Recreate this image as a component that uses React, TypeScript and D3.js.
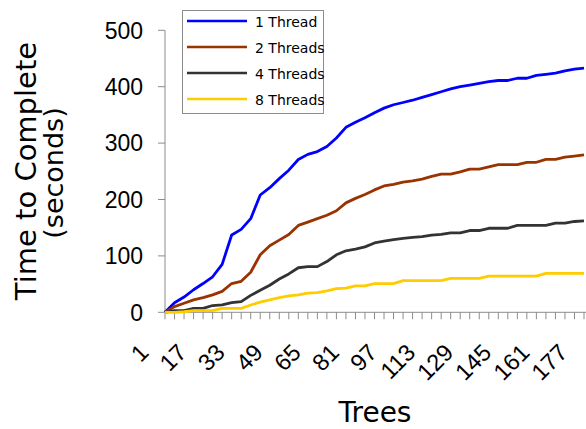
import * as d3 from "d3"

// trees sampled every 4 (matches the tick marks)
const trees = [
  1, 5, 9, 13, 17, 21, 25, 29, 33, 37, 41, 45, 49, 53, 57, 61, 65, 69, 73, 77, 81, 85, 89,
  93, 97, 101, 105, 109, 113, 117, 121, 125, 129, 133, 137, 141, 145, 149, 153, 157, 161,
  165, 169, 173, 177,
]

const thread1 = [
  0, 17, 27, 40, 51, 63, 85, 137, 147, 166, 208, 221, 237, 252, 271, 280, 285, 294, 309, 328,
  337, 345, 354, 362, 368, 372, 376, 381, 386, 391, 396, 400, 403, 406, 409, 411, 411, 415,
  415, 420, 422, 424, 428, 431, 433,
]
const thread2 = [
  0, 10, 16, 22, 26, 31, 37, 51, 55, 71, 102, 118, 128, 138, 154, 160, 166, 172, 180, 194,
  202, 209, 217, 224, 227, 231, 233, 236, 241, 245, 245, 249, 254, 254, 258, 262, 262, 262,
  266, 266, 271, 271, 275, 277, 279,
]
const thread4 = [
  0, 3, 3, 7, 7, 12, 13, 17, 19, 30, 39, 48, 59, 68, 79, 81, 81, 90, 102, 109, 112, 116, 123,
  126, 129, 131, 133, 134, 137, 138, 141, 141, 145, 145, 149, 149, 149, 154, 154, 154, 154,
  158, 158, 161, 162,
]
const thread8 = [
  0, 0, 1, 3, 3, 3, 7, 7, 7, 13, 18, 22, 26, 29, 31, 34, 35, 38, 42, 43, 47, 47, 51, 51, 51,
  56, 56, 56, 56, 56, 60, 60, 60, 60, 64, 64, 64, 64, 64, 64, 69, 69, 69, 69, 69,
]

const seriesNames = ["1 Thread", "2 Threads", "4 Threads", "8 Threads"]
const seriesColors = ["#0000ff", "#993300", "#333333", "#ffcc00"]
const xLabels = [1, 17, 33, 49, 65, 81, 97, 113, 129, 145, 161, 177]
const yTicks = [0, 100, 200, 300, 400, 500]

const W = 586
const H = 429

export default function App() {
  const x = d3.scaleLinear().domain([1, 177]).range([165, 584])
  const y = d3.scaleLinear().domain([0, 500]).range([312.3, 30.3])
  const line = d3
    .line<number>()
    .x((_, i) => x(trees[i]))
    .y((d) => y(d))

  const series = [thread1, thread2, thread4, thread8]
  const axisColor = "#8c8c8c"
  const x0 = x(1)
  const yBase = y(0)

  return (
    <svg
      width={W}
      height={H}
      style={{ position: "absolute", left: 0, top: 0, background: "#fff" }}
    >
      {/* y axis */}
      <line x1={x0} x2={x0} y1={y(500)} y2={yBase} stroke={axisColor} strokeWidth={1} />
      {yTicks.map((t) => (
        <g key={t}>
          <line x1={x0 - 7} x2={x0} y1={y(t)} y2={y(t)} stroke={axisColor} strokeWidth={1} />
          <text
            x={143}
            y={y(t)}
            dy="0.36em"
            textAnchor="end"
            fontFamily="Liberation Sans, Arial, sans-serif"
            fontSize={23}
            fill="#000"
          >
            {t}
          </text>
        </g>
      ))}

      {/* x axis */}
      <line x1={x0} x2={W} y1={yBase} y2={yBase} stroke={axisColor} strokeWidth={1} />
      {trees.map((t) => (
        <line
          key={t}
          x1={x(t)}
          x2={x(t)}
          y1={yBase}
          y2={yBase + 7}
          stroke={axisColor}
          strokeWidth={1}
        />
      ))}
      {xLabels.map((t) => (
        <text
          key={t}
          transform={`translate(${x(t) - 15},${354}) rotate(-45)`}
          textAnchor="end"
          fontFamily="Liberation Sans, Arial, sans-serif"
          fontSize={23.5}
          fill="#000"
        >
          {t}
        </text>
      ))}

      {/* series */}
      {series.map((s, i) => (
        <path
          key={seriesNames[i]}
          d={line(s) ?? ""}
          fill="none"
          stroke={seriesColors[i]}
          strokeWidth={2.8}
          strokeLinejoin="round"
        />
      ))}

      {/* axis titles */}
      <text
        transform="translate(36,171) rotate(-90)"
        textAnchor="middle"
        fontFamily="DejaVu Sans, sans-serif"
        fontSize={29}
        fill="#000"
      >
        Time to Complete
      </text>
      <text
        transform="translate(63,173) rotate(-90)"
        textAnchor="middle"
        fontFamily="DejaVu Sans, sans-serif"
        fontSize={27}
        fill="#000"
      >
        (seconds)
      </text>
      <text
        x={375}
        y={422}
        textAnchor="middle"
        fontFamily="DejaVu Sans, sans-serif"
        fontSize={28}
        fill="#000"
      >
        Trees
      </text>

      {/* legend */}
      <rect x={182.5} y={10.5} width={141} height={103} fill="#fff" stroke={axisColor} />
      {seriesNames.map((name, i) => {
        const ly = 21 + i * 26
        return (
          <g key={name}>
            <line x1={187} x2={247} y1={ly} y2={ly} stroke={seriesColors[i]} strokeWidth={2.5} />
            <text
              x={255}
              y={ly + 5.5}
              fontFamily="DejaVu Sans, sans-serif"
              fontSize={14}
              fill="#000"
            >
              {name}
            </text>
          </g>
        )
      })}
    </svg>
  )
}
